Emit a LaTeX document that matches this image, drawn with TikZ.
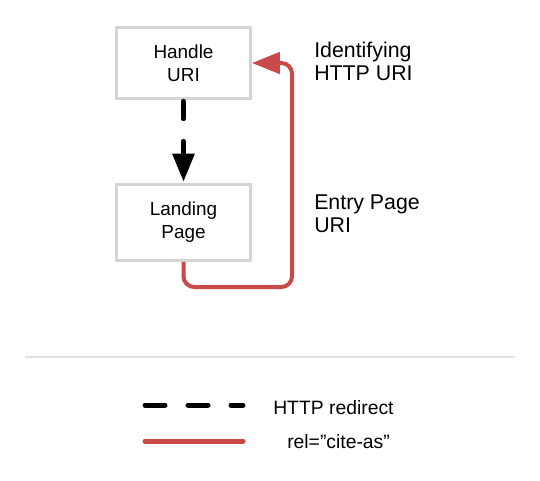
\documentclass[tikz,border=0pt]{standalone}
\usepackage{fontspec}
\setmainfont{Liberation Sans}
\usetikzlibrary{arrows.meta}
\definecolor{boxgray}{RGB}{212,212,212}
\definecolor{citered}{RGB}{201,74,73}
\definecolor{rulegray}{RGB}{226,226,226}
\begin{document}
\begin{tikzpicture}[x=0.75pt,y=-0.75pt,
  uribox/.style={draw=boxgray,line width=2.2pt,minimum width=100.5pt,minimum height=53.3pt,
    align=center,font=\fontsize{14.2}{17.2}\selectfont},
  sidelabel/.style={anchor=north west,inner sep=0pt,align=left,font=\fontsize{16}{16.8}\selectfont},
  legendlabel/.style={anchor=west,inner sep=0pt,font=\fontsize{14.5}{17}\selectfont},
  redirect/.style={line width=3.75pt,line cap=round,dash pattern=on 15pt off 17.25pt},
  citeas/.style={draw=citered,line width=3pt,rounded corners=8pt},
  head/.style={-{Triangle[length=21pt,width=16pt]}}]
\useasboundingbox (0,0) rectangle (540,480);
\node[uribox] (handle) at (183.5,63) {Handle\\URI};
\node[uribox,minimum height=57pt] (landing) at (183.5,222.5) {Landing\\Page};
\node[sidelabel] (ident) at (314,42) {Identifying\\HTTP URI};
\node[sidelabel] (entry) at (314,195) {Entry Page\\URI};
\coordinate (turn) at (292,287);
\draw[line width=3.75pt,line cap=round] ([yshift=-1pt]handle.south) -- ([yshift=-14pt]handle.south);
\draw[head,line width=3.75pt,line cap=round] ([yshift=-31pt]handle.south) -- ([yshift=1pt]landing.north);
\draw[citeas,head] (landing.south) |- (turn) |- (handle.east);
\draw[rulegray,line width=1.5pt] (25,357) -- (515,357);
\coordinate (redirA) at (145,405);
\coordinate (redirB) at (243,405);
\coordinate (citeA) at (145,441);
\coordinate (citeB) at (243,441);
\draw[redirect] (redirA) -- (redirB);
\draw[citered,line width=3.75pt,line cap=round] (citeA) -- (citeB);
\node[legendlabel] (redirtext) at (273,408) {HTTP redirect};
\node[legendlabel] (citetext) at (287,442) {rel=\symbol{34}cite-as\symbol{34}};
\end{tikzpicture}
\end{document}
